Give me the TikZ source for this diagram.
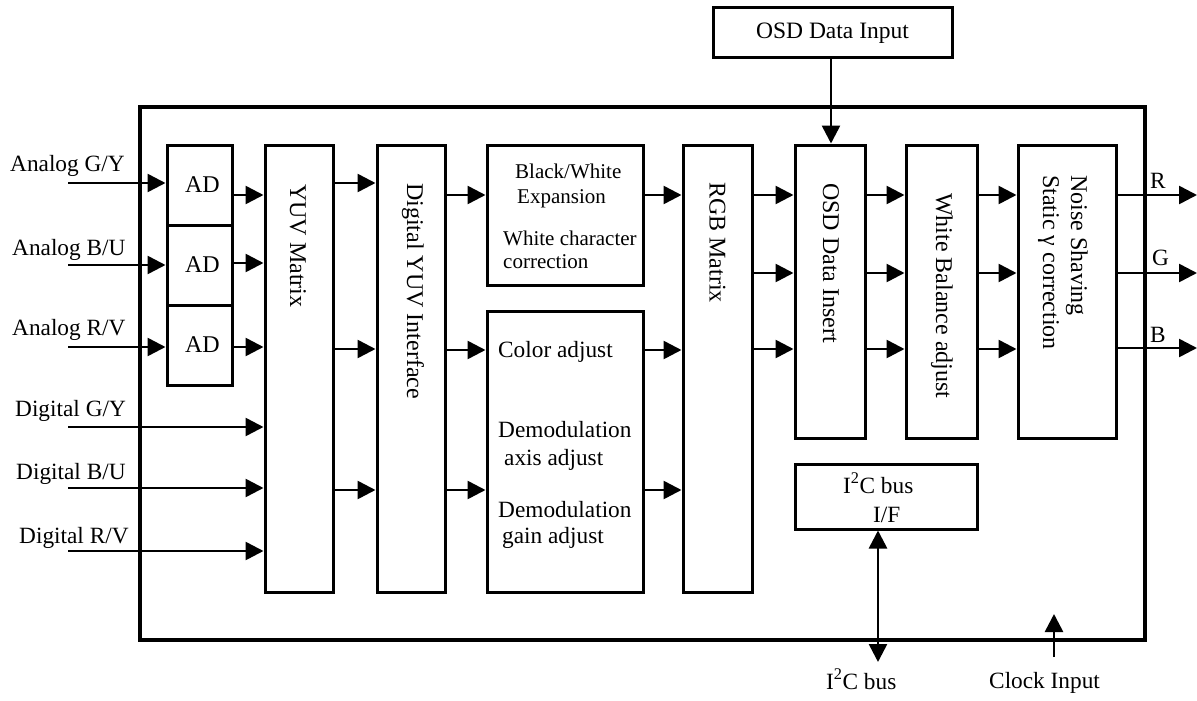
\documentclass[tikz,border=0pt]{standalone}
\usepackage{fontspec}
\setmainfont{Liberation Serif}
\usetikzlibrary{arrows.meta}
\begin{document}
\begin{tikzpicture}[x=1pt,y=-1pt,
  blk/.style={draw, line width=3pt, inner sep=0pt, font=\fontsize{24}{28}\selectfont},
  chipbox/.style={draw, line width=4.5pt, inner sep=0pt},
  arr/.style={line width=2.6pt, -{Triangle[length=18pt,width=18pt]}},
  arrtwo/.style={line width=2.6pt, {Triangle[length=18pt,width=18pt]}-{Triangle[length=18pt,width=18pt]}},
  txt/.style={inner sep=0pt, font=\fontsize{23.3}{28}\selectfont},
  lbl/.style={txt, anchor=base west},
  small/.style={lbl, font=\fontsize{21}{25}\selectfont},
  rot/.style={inner sep=0pt, font=\fontsize{24}{28}\selectfont, rotate=-90, anchor=west, align=left}]
\useasboundingbox (0,0) rectangle (1197,701);

% outer chip
\node[chipbox, minimum width=1005pt, minimum height=533pt] (chip) at (642.5,373.5) {};

% blocks
\node[blk, minimum width=239pt, minimum height=50pt, font=\fontsize{23.5}{28}\selectfont] (osdin) at (832.5,33) {OSD Data Input};
\node[blk, minimum width=65pt, minimum height=80pt] (ad1) at (199.5,185) {\hspace{6pt}AD};
\node[blk, minimum width=65pt, minimum height=80pt] (ad2) at (199.5,265) {\hspace{6pt}AD};
\node[blk, minimum width=65pt, minimum height=80pt] (ad3) at (199.5,345) {\hspace{6pt}AD};
\node[blk, minimum width=68pt, minimum height=447pt] (yuv) at (299,368.5) {};
\node[blk, minimum width=68pt, minimum height=447pt] (dyuv) at (411,368.5) {};
\node[blk, minimum width=156pt, minimum height=140pt] (bw) at (565,215) {};
\node[blk, minimum width=156pt, minimum height=281pt] (col) at (565,451.5) {};
\node[blk, minimum width=69pt, minimum height=447pt] (rgb) at (717.5,368.5) {};
\node[blk, minimum width=70pt, minimum height=293pt] (osd) at (830,291.5) {};
\node[blk, minimum width=71pt, minimum height=293pt] (wb) at (941.5,291.5) {};
\node[blk, minimum width=98pt, minimum height=293pt] (ns) at (1067,291.5) {};
\node[blk, minimum width=182pt, minimum height=65pt] (i2c) at (886,496.5) {};

% rotated texts
\node[rot] (tyuv) at (298,184) {YUV Matrix};
\node[rot] (tdyuv) at (413,183) {Digital YUV Interface};
\node[rot] (trgb) at (717.5,182) {RGB Matrix};
\node[rot] (tosd) at (831,183) {OSD Data Insert};
\node[rot] (twb) at (942,193) {White Balance adjust};
\node[rot] (tns) at (1063,175) {Noise Shaving\\Static γ correction};

% block texts
\node[small] (t1) at (515,178) {Black/White};
\node[small] (t2) at (517,203) {Expansion};
\node[small] (t3) at (503,245) {White character};
\node[small] (t4) at (503,268) {correction};
\node[lbl] (t5) at (498,357) {Color adjust};
\node[lbl] (t6) at (498,437) {Demodulation};
\node[lbl] (t7) at (504,465) {axis adjust};
\node[lbl] (t8) at (498,517) {Demodulation};
\node[lbl] (t9) at (502,543) {gain adjust};
\node[lbl] (t10) at (843,493) {I\textsuperscript{2}C bus};
\node[lbl] (t11) at (873,522) {I/F};

% input labels
\node[lbl] (la1) at (10,171) {Analog G/Y};
\node[lbl] (la2) at (12,255) {Analog B/U};
\node[lbl] (la3) at (12,335) {Analog R/V};
\node[lbl] (ld1) at (15,416) {Digital G/Y};
\node[lbl] (ld2) at (16,479) {Digital B/U};
\node[lbl] (ld3) at (19,543) {Digital R/V};

% output labels
\node[lbl] (lr) at (1150,188) {R};
\node[lbl] (lg) at (1152,265) {G};
\node[lbl] (lb) at (1150,342) {B};
\node[lbl] (lbus) at (826,689) {I\textsuperscript{2}C bus};
\node[lbl] (lclk) at (989,688) {Clock Input};

% free-end coordinates
\coordinate (ia1) at (68,183);
\coordinate (ia2) at (68,265);
\coordinate (ia3) at (68,347);
\coordinate (id1) at (68,427);
\coordinate (id2) at (68,488);
\coordinate (id3) at (68,551);
\coordinate (oR) at (1197,195);
\coordinate (oG) at (1197,273);
\coordinate (oB) at (1197,348);
\coordinate (busend) at (878,662);
\coordinate (clkbot) at (1054,657);
\coordinate (clktip) at (1054,614);

% input arrows
\draw[arr] (ia1) -- (ad1.west |- ia1);
\draw[arr] (ia2) -- (ad2.west |- ia2);
\draw[arr] (ia3) -- (ad3.west |- ia3);
\draw[arr] (id1) -- (yuv.west |- id1);
\draw[arr] (id2) -- (yuv.west |- id2);
\draw[arr] (id3) -- (yuv.west |- id3);

% AD -> YUV
\draw[arr] (ad1.east |- 0,195) -- (yuv.west |- 0,195);
\draw[arr] (ad2.east |- 0,263) -- (yuv.west |- 0,263);
\draw[arr] (ad3.east |- 0,347) -- (yuv.west |- 0,347);
% YUV -> Digital YUV
\draw[arr] (yuv.east |- 0,183) -- (dyuv.west |- 0,183);
\draw[arr] (yuv.east |- 0,349) -- (dyuv.west |- 0,349);
\draw[arr] (yuv.east |- 0,490) -- (dyuv.west |- 0,490);
% Digital YUV -> processing
\draw[arr] (dyuv.east |- 0,195) -- (bw.west |- 0,195);
\draw[arr] (dyuv.east |- 0,350) -- (col.west |- 0,350);
\draw[arr] (dyuv.east |- 0,490) -- (col.west |- 0,490);
% processing -> RGB
\draw[arr] (bw.east |- 0,195) -- (rgb.west |- 0,195);
\draw[arr] (col.east |- 0,350) -- (rgb.west |- 0,350);
\draw[arr] (col.east |- 0,490) -- (rgb.west |- 0,490);
% RGB -> OSD -> WB -> NS
\foreach \yy in {195,273,349} {
  \draw[arr] (rgb.east |- 0,\yy) -- (osd.west |- 0,\yy);
  \draw[arr] (osd.east |- 0,\yy) -- (wb.west |- 0,\yy);
  \draw[arr] (wb.east |- 0,\yy) -- (ns.west |- 0,\yy);
}
% outputs
\draw[arr] (ns.east |- oR) -- (oR);
\draw[arr] (ns.east |- oG) -- (oG);
\draw[arr] (ns.east |- oB) -- (oB);

% OSD data input
\draw[arr] (osdin.south -| 831,0) -- (osd.north -| 831,0);
% I2C bus
\draw[arrtwo] (busend) -- (busend |- i2c.south);
% Clock
\draw[arr] (clkbot) -- (clktip);
\end{tikzpicture}
\end{document}
